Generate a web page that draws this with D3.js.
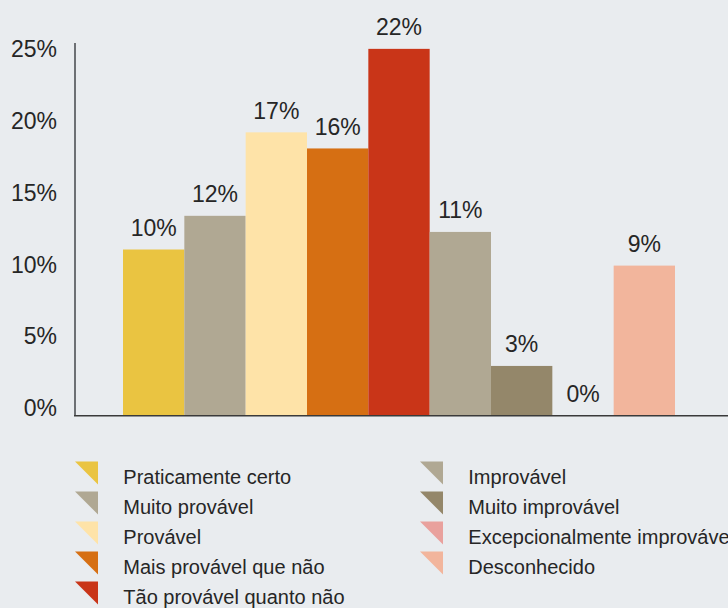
<!DOCTYPE html>
<html>
<head>
<meta charset="utf-8">
<script src="https://cdn.jsdelivr.net/npm/d3@7"></script>
<style>
  html, body { margin: 0; padding: 0; background: #e9ecef; overflow: hidden; }
  svg { display: block; }
  text { font-family: "Liberation Sans", Arial, sans-serif; fill: #262626; }
</style>
</head>
<body>
<svg id="chart" width="728" height="608"></svg>
<script>
// categories (legend order = bar order)
const categories = [
  "Praticamente certo",
  "Muito provável",
  "Provável",
  "Mais provável que não",
  "Tão provável quanto não",
  "Improvável",
  "Muito improvável",
  "Excepcionalmente improvável",
  "Desconhecido"
];
// bar heights as drawn against the axis (%)
const values = [11.3, 13.6, 19.3, 18.2, 25.0, 12.5, 3.35, 0, 10.2];
// value labels printed above the bars
const valueLabels = ["10%", "12%", "17%", "16%", "22%", "11%", "3%", "0%", "9%"];
const colors = ["#eac441", "#b0a893", "#fee3a8", "#d66f13", "#c93518",
                "#b0a893", "#94876a", "#e9a19d", "#f2b59c"];
const yTicks = [0, 5, 10, 15, 20, 25];
const legendCols = [[0, 1, 2, 3, 4], [5, 6, 7, 8]];

var svg = d3.select("#chart");

const axisX = 75;
const baseY = 415;

const x = d3.scaleBand()
    .domain(categories)
    .range([123, 675])
    .padding(0);

const y = d3.scaleLinear()
    .domain([0, 25.4])
    .range([baseY, 43]);

// tick labels sit on a slightly tighter spacing than the bars
const yLab = d3.scaleLinear()
    .domain([0, 25])
    .range([407.5, 48.3]);

const color = d3.scaleOrdinal().domain(categories).range(colors);

const data = categories.map((c, i) => ({c, v: values[i], lab: valueLabels[i]}));

// bars
svg.append("g")
    .attr("class", "bars")
    .selectAll("rect")
    .data(data)
    .enter()
    .append("rect")
    .attr("x", d => x(d.c))
    .attr("width", x.bandwidth())
    .attr("y", d => y(d.v))
    .attr("height", d => baseY - y(d.v))
    .attr("fill", d => color(d.c));

// value labels
svg.append("g")
    .attr("class", "labels")
    .selectAll("text")
    .data(data)
    .enter()
    .append("text")
    .attr("x", d => x(d.c) + x.bandwidth() / 2)
    .attr("y", d => y(d.v) - 13.5)
    .attr("text-anchor", "middle")
    .attr("font-size", 23)
    .text(d => d.lab);

// y axis labels
const yAxis = svg.append("g")
    .attr("transform", `translate(${axisX},0)`)
    .call(d3.axisLeft(yLab)
        .tickValues(yTicks)
        .tickSize(0)
        .tickPadding(18)
        .tickFormat(d => d + "%"));
yAxis.select(".domain").remove();
yAxis.attr("font-family", null).attr("font-size", null);
yAxis.selectAll("text")
    .attr("font-size", 23)
    .attr("fill", "#262626")
    .attr("dy", "0.36em");

// axis lines
svg.append("line")
    .attr("x1", axisX).attr("x2", axisX)
    .attr("y1", y.range()[1]).attr("y2", baseY)
    .attr("stroke", "#6d7074")
    .attr("stroke-width", 2);
svg.append("line")
    .attr("x1", axisX - 1).attr("x2", 728)
    .attr("y1", baseY + 0.75).attr("y2", baseY + 0.75)
    .attr("stroke", "#3a3a3a")
    .attr("stroke-width", 1.5);

// legend
const colX = [75, 420];
const legendTop = 461.5;
const rowH = 30;
const tri = 23;

legendCols.forEach((col, ci) => {
    const g = svg.append("g")
        .attr("class", "legend")
        .attr("transform", `translate(${colX[ci]},${legendTop})`);
    const item = g.selectAll("g.item")
        .data(col)
        .enter()
        .append("g")
        .attr("class", "item")
        .attr("transform", (d, i) => `translate(0,${i * rowH})`);
    item.append("path")
        .attr("d", `M0,0 L${tri},0 L${tri},${tri} Z`)
        .attr("fill", d => colors[d]);
    item.append("text")
        .attr("x", 48.3)
        .attr("y", 22)
        .attr("font-size", 20)
        .text(d => categories[d]);
});
</script>
</body>
</html>
